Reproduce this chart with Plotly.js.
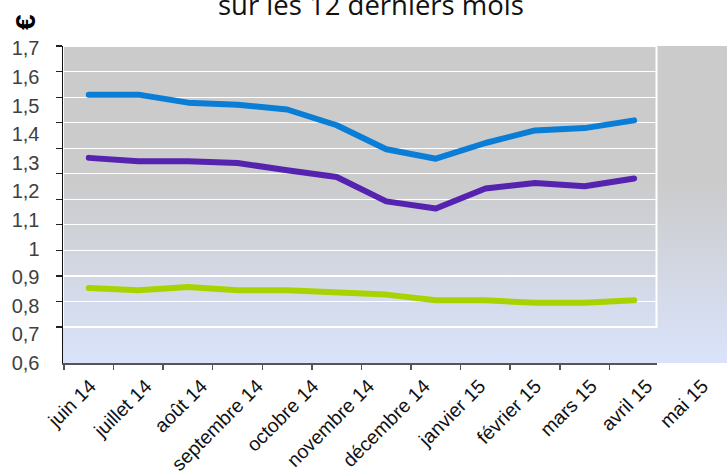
<!DOCTYPE html>
<html>
<head>
<meta charset="utf-8">
<script src="https://cdn.plot.ly/plotly-3.0.1.min.js"></script>
<style>
html,body{margin:0;padding:0;background:#fff;}
#chart{width:727px;height:474px;}
.scatterlayer path.js-line{stroke-linecap:round;stroke-linejoin:round;}
</style>
</head>
<body>
<div id="chart"></div>
<script>
// ---- data ----
const months = ["juin 14","juillet 14","août 14","septembre 14","octobre 14","novembre 14","décembre 14","janvier 15","février 15","mars 15","avril 15","mai 15"];
const seriesBlue   = [1.538, 1.538, 1.510, 1.503, 1.486, 1.431, 1.347, 1.314, 1.369, 1.413, 1.421, 1.448];
const seriesPurple = [1.317, 1.305, 1.305, 1.299, 1.274, 1.250, 1.165, 1.140, 1.210, 1.229, 1.218, 1.245];
const seriesGreen  = [0.862, 0.854, 0.866, 0.854, 0.854, 0.846, 0.839, 0.819, 0.819, 0.811, 0.811, 0.819];
const yTickVals   = [0.6, 0.7, 0.8, 0.9, 1.0, 1.1, 1.2, 1.3, 1.4, 1.5, 1.6, 1.7];
const yTickLabels = ["0,6","0,7","0,8","0,9","1","1,1","1,2","1,3","1,4","1,5","1,6","1,7"];
const gridVals    = [0.6, 0.7, 0.8, 0.9, 1.0, 1.1, 1.2, 1.3, 1.4, 1.5, 1.6, 1.7];
const titleText = "sur les 12 derniers mois";
const unitText = "€";

// ---- styling ----
const W = 727, H = 474;
const L = 63, T = 46, B = 111;
const plotW = W - L, plotH = H - T - B;
const wallRight = 656.5;          // px
const wallBottom = 327;           // px
const px2x = p => (p - L) / plotW;
const px2y = p => (H - B - p) / plotH;

const svg = "<svg xmlns='http://www.w3.org/2000/svg' width='664' height='317' preserveAspectRatio='none'>" +
  "<defs><linearGradient id='g' x1='0' y1='0' x2='0' y2='1'>" +
  "<stop offset='0' stop-color='#cbcbcb'/><stop offset='0.42' stop-color='#cbcbcb'/>" +
  "<stop offset='1' stop-color='#dae3fa'/></linearGradient></defs>" +
  "<rect x='0' y='0' width='664' height='317' fill='url(#g)'/></svg>";
const bgSrc = "data:image/svg+xml;charset=utf-8," + encodeURIComponent(svg);

function line(y, color) {
  return {x: months, y: y, type: 'scatter', mode: 'lines', xaxis: 'x', yaxis: 'y',
    line: {color: color, width: 6, shape: 'linear'}, hoverinfo: 'skip', showlegend: false};
}
const nulls = months.map(() => null);
const data = [
  {x: months, y: nulls, type: 'scatter', mode: 'lines', xaxis: 'x', yaxis: 'y2', hoverinfo: 'skip', showlegend: false},
  {x: months, y: nulls, type: 'scatter', mode: 'lines', xaxis: 'x2', yaxis: 'y', hoverinfo: 'skip', showlegend: false},
  line(seriesBlue, '#0a7dd7'),
  line(seriesPurple, '#5623b0'),
  line(seriesGreen, '#a9d300')
];

const tickFont = {family: 'Liberation Sans, Arial, sans-serif', size: 20, color: '#404040'};
const layout = {
  width: W, height: H,
  margin: {l: L, r: 0, t: T, b: B, pad: 0},
  paper_bgcolor: '#ffffff',
  plot_bgcolor: 'rgba(0,0,0,0)',
  showlegend: false,
  xaxis: {
    type: 'category', categoryarray: months, categoryorder: 'array',
    domain: [0, px2x(wallRight)], range: [-0.52, 11.45], anchor: 'y',
    showgrid: false, zeroline: false, showline: true, linecolor: '#555555', linewidth: 1.5,
    ticks: 'outside', tickson: 'boundaries', ticklen: 5, tickcolor: '#555555', tickwidth: 1.5,
    showticklabels: false
  },
  xaxis2: {
    type: 'category', categoryarray: months, categoryorder: 'array',
    domain: [0, 1], range: [-0.49, 11.44], anchor: 'y', side: 'bottom',
    showgrid: false, zeroline: false, showline: false, ticks: '',
    tickangle: -45, ticklabelstandoff: 7,
    tickfont: {family: 'Liberation Sans, Arial, sans-serif', size: 19.5, color: '#111111'}
  },
  yaxis: {
    range: [0.6, 1.708], domain: [0, 1], anchor: 'x',
    tickvals: yTickVals, ticktext: yTickLabels, tickfont: tickFont,
    ticks: '', ticklabelstandoff: 18,
    showgrid: false, zeroline: false, showline: true, linecolor: '#111111', linewidth: 1.5
  },
  yaxis2: {
    overlaying: 'y', anchor: 'x', side: 'left',
    range: [0.4591, 1.7001],
    tickvals: gridVals, showticklabels: false,
    ticks: 'outside', ticklen: 6, tickcolor: '#222222', tickwidth: 1.2,
    showgrid: true, gridcolor: '#ffffff', gridwidth: 1.2,
    zeroline: false, showline: false
  },
  images: [{
    source: bgSrc, xref: 'paper', yref: 'paper', x: 0, y: 1, sizex: 1, sizey: 1,
    xanchor: 'left', yanchor: 'top', sizing: 'stretch', layer: 'below'
  }],
  shapes: [{
    type: 'rect', xref: 'paper', yref: 'paper', layer: 'below',
    x0: 0, x1: px2x(wallRight), y0: px2y(wallBottom), y1: 1,
    line: {color: '#ffffff', width: 2}, fillcolor: 'rgba(0,0,0,0)'
  }],
  annotations: [
    {text: titleText, xref: 'paper', yref: 'paper', x: px2x(370.5), y: px2y(25),
     xanchor: 'center', yanchor: 'bottom', showarrow: false,
     font: {family: 'Open Sans, sans-serif', size: 27.5, color: '#111111'}},
    {text: '<b>' + unitText + '</b>', xref: 'paper', yref: 'paper', x: px2x(25), y: px2y(22),
     xanchor: 'center', yanchor: 'middle', showarrow: false, textangle: -90,
     font: {family: 'Liberation Sans, Arial, sans-serif', size: 28, color: '#000000'}}
  ]
};

Plotly.newPlot('chart', data, layout, {displayModeBar: false, staticPlot: true});
</script>
</body>
</html>
